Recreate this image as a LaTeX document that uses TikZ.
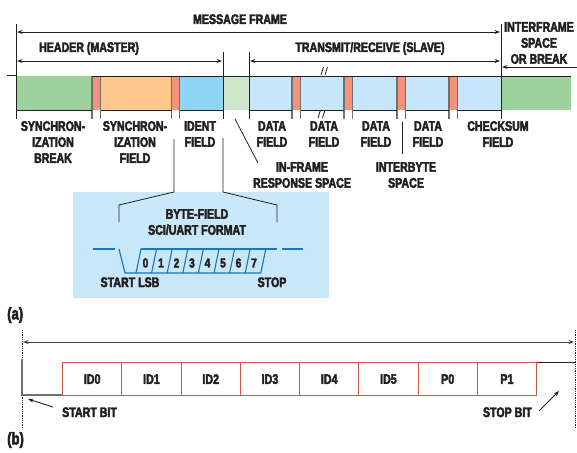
\documentclass[tikz,border=0pt]{standalone}
\usepackage{fontspec}
\setmainfont{Liberation Sans}
\newfontfamily\condf[FakeStretch=0.77,FakeBold=3,UprightFont={* Bold},BoldFont={* Bold}]{Liberation Sans}
\usetikzlibrary{arrows.meta}
\definecolor{txt}{HTML}{231F20}
\definecolor{grn}{HTML}{9DD29C}
\definecolor{peach}{HTML}{FCC88C}
\definecolor{salmon}{HTML}{F4937A}
\definecolor{sky}{HTML}{8DD5F5}
\definecolor{lgrn}{HTML}{CFE8CB}
\definecolor{lblue}{HTML}{C6E7F9}
\definecolor{boxbg}{HTML}{C8E7F8}
\definecolor{wave}{HTML}{1B75BB}
\definecolor{idred}{HTML}{CD5A45}
\definecolor{edge}{HTML}{707070}
\begin{document}
\begin{tikzpicture}[x=1pt,y=-1pt,
  lab/.style={font=\condf\fontsize{13.8}{16}\selectfont, text=txt, align=center, inner sep=0pt},
  big/.style={font=\condf\fontsize{17}{18}\selectfont, text=txt, inner sep=0pt},
  dig/.style={font=\condf\fontsize{13}{14}\selectfont, text=txt, inner sep=0pt},
  ln/.style={draw=txt, line width=0.9pt},
  tip/.style={-{Stealth[length=5.5pt,width=4pt]}},
  dtip/.style={{Stealth[length=5.5pt,width=4pt]}-{Stealth[length=5.5pt,width=4pt]}},
  sepl/.style={draw=edge, line width=1.3pt},
  wv/.style={draw=wave, line width=1.1pt},
  idbox/.style={draw=idred, line width=1.2pt, minimum height=33pt, minimum width=59.25pt,
    inner sep=0pt, anchor=north west, font=\condf\fontsize{13.8}{16}\selectfont, text=txt},
]
\useasboundingbox (0,0) rectangle (577,452);
% ---------- bar fills ----------
\fill[grn] (17,76) rectangle (91,110);
\fill[salmon] (92,76) rectangle (100.5,110);
\fill[peach] (100.5,76) rectangle (171.5,110);
\fill[salmon] (171.5,76) rectangle (179.5,110);
\fill[sky] (179.5,76) rectangle (223,110);
\fill[lgrn] (223,76) rectangle (249,110);
\fill[lblue] (249,76) rectangle (292,110);
\fill[salmon] (292,76) rectangle (300.5,110);
\fill[lblue] (300.5,76) rectangle (344,110);
\fill[salmon] (344,76) rectangle (352.5,110);
\fill[lblue] (352.5,76) rectangle (397,110);
\fill[salmon] (397,76) rectangle (405.5,110);
\fill[lblue] (405.5,76) rectangle (449,110);
\fill[salmon] (449,76) rectangle (457.5,110);
\fill[lblue] (457.5,76) rectangle (501,110);
\fill[grn] (501,76) rectangle (571,110);
% separators
\foreach \x in {92,100.5,171.5,179.5,292,300.5,344,352.5,397,405.5,449,457.5}
  \draw[sepl] (\x,76) -- (\x,119);
% top and bottom lines
\draw[ln] (7,75.5) -- (16,75.5);
\draw[ln] (92,76) -- (571,76);
\foreach \a/\b in {16/92,100.5/171.5,179.5/223,249/292,300.5/344,352.5/397,405.5/449,457.5/501}
  \draw[ln] (\a,110) -- (\b,110);
% verticals
\draw[ln] (16,24) -- (16,119);
\draw[ln] (501,24) -- (501,119);
\draw[ln] (223,52) -- (223,119);
\draw[ln] (249,52) -- (249,119);
% break marks
\draw[ln,line width=0.8pt] (321,75) -- (323.5,67) (325,75) -- (327.5,67);
\draw[ln,line width=0.8pt] (318,118) -- (320.5,110) (322.5,118) -- (325,110);
% dimension arrows
\draw[ln,dtip] (17,32) -- (500,32);
\draw[ln,dtip] (17,61) -- (222,61);
\draw[ln,dtip] (250,61) -- (500,61);
\draw[ln,tip] (577,67) -- (502,67);
% top labels
\node[lab,anchor=base] (mf) at (240,24) {MESSAGE FRAME};
\node[lab,anchor=base] (hm) at (89,52) {HEADER (MASTER)};
\node[lab,anchor=base] (ts) at (370,52) {TRANSMIT/RECEIVE (SLAVE)};
\node[lab,anchor=north] (ifs) at (539,22) {INTERFRAME\\SPACE\\OR BREAK};
% bottom labels
\node[lab,anchor=north] (sb) at (53,121) {SYNCHRON-\\IZATION\\BREAK};
\node[lab,anchor=north] (sf) at (135,121) {SYNCHRON-\\IZATION\\FIELD};
\node[lab,anchor=north] (idf) at (200,121) {IDENT\\FIELD};
\node[lab,anchor=north] (df1) at (272,121) {DATA\\FIELD};
\node[lab,anchor=north] (df2) at (324,121) {DATA\\FIELD};
\node[lab,anchor=north] (df3) at (376,121) {DATA\\FIELD};
\node[lab,anchor=north] (df4) at (428,121) {DATA\\FIELD};
\node[lab,anchor=north] (cs) at (498,121) {CHECKSUM\\FIELD};
\node[lab,anchor=north] (ifr) at (302,162) {IN-FRAME\\RESPONSE SPACE};
\node[lab,anchor=north] (ibs) at (406,162) {INTERBYTE\\SPACE};
\coordinate (l1a) at (235,119);
\coordinate (l1b) at (258,163);
\draw[ln,line width=0.8pt] (l1a) -- (l1b);
\coordinate (l2a) at (402,122);
\coordinate (l2b) at (402,154);
\draw[ln,line width=0.8pt] (l2a) -- (l2b);
% byte-field box
\fill[boxbg] (73,192) rectangle (329,298);
\draw[ln,line width=0.8pt] (174,139) -- (174,192) -- (119,205) -- (119,222);
\draw[ln,line width=0.8pt] (223,138) -- (223,192) -- (277,205) -- (277,222);
\node[lab,anchor=north] (bf) at (197,209) {BYTE-FIELD\\SCI/UART FORMAT};
\draw[wv] (93,249) -- (115,249);
\draw[wv] (119,249) -- (125,273) -- (261,273);
\draw[wv] (141,249) -- (277,249);
\foreach \k in {0,...,8}
  \draw[wv] ({136+\k*15.6},273) -- ({141+\k*15.6},249);
\draw[wv] (282,249) -- (303,249);
\foreach \k in {0,...,7}
  \node[dig] (d\k) at ({145.5+\k*15.5},263) {\k};
\node[lab,anchor=base] (slsb) at (130,287) {START LSB};
\node[lab,anchor=base] (stp) at (272,287) {STOP};
\node[big,anchor=west] (pa) at (7,315) {(a)};
% ---------- part (b) ----------
\draw[draw=txt,line width=0.8pt,densely dotted] (22,330) -- (22,428);
\draw[draw=txt,line width=0.8pt,densely dotted] (575,330) -- (575,428);
\draw[draw=txt!85,line width=1pt,dtip] (23,342) -- (574,342);
\draw[draw=edge,line width=1.3pt] (22,359) -- (22,395) -- (62,395);
\foreach \t [count=\i from 0] in {ID0,ID1,ID2,ID3,ID4,ID5,P0,P1}
  \node[idbox] (b\i) at ({62+\i*59.25},362) {\t};
\draw[ln] (b7.north east) -- (575,362);
\node[lab,anchor=base west] (stb) at (62,417) {START BIT};
\node[lab,anchor=base east] (spb) at (532,417) {STOP BIT};
\coordinate (sa) at (53,407);
\coordinate (sat) at (28,399);
\draw[ln,tip] (sa) -- (sat);
\coordinate (pa1) at (539,411);
\coordinate (pa2) at (559,391);
\draw[ln,tip] (pa1) -- (pa2);
\node[big,anchor=west] (pb) at (7,440) {(b)};
\end{tikzpicture}
\end{document}
